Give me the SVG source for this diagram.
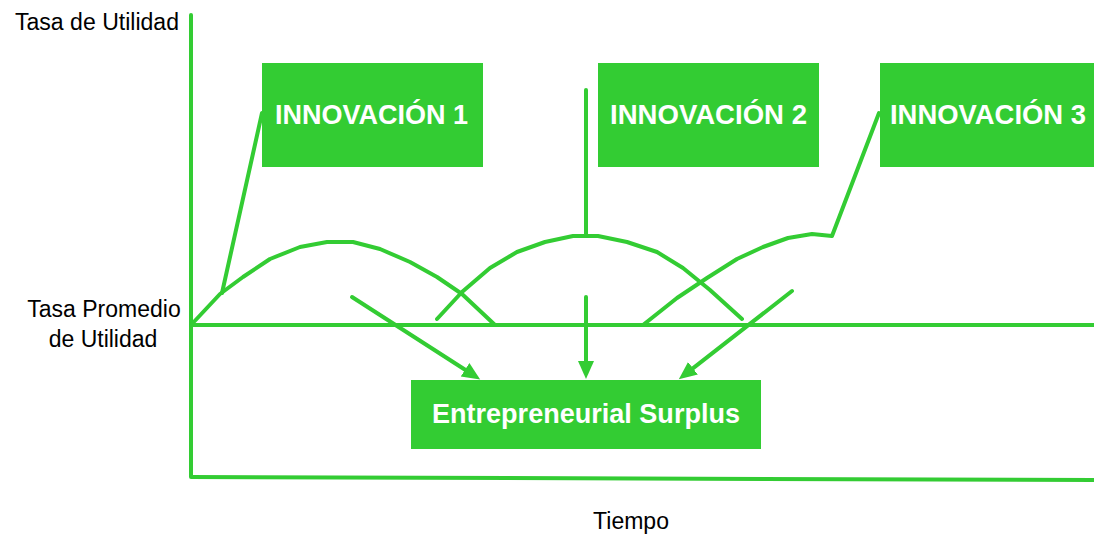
<svg xmlns="http://www.w3.org/2000/svg" width="1094" height="537" viewBox="0 0 1094 537">
  <style>
    .ln { fill: none; stroke: #33CC33; stroke-width: 4; stroke-linecap: round; stroke-linejoin: round; }
    .box { fill: #33CC33; }
    .bt { font-family: "Liberation Sans", Arial, sans-serif; font-weight: bold; fill: #FFFFFF; text-anchor: middle; }
    .lbl { font-family: "Liberation Sans", Arial, sans-serif; fill: #000000; }
  </style>
  <defs>
    <marker id="ah" markerUnits="userSpaceOnUse" markerWidth="20" markerHeight="18" refX="1" refY="8" orient="auto">
      <polygon points="0,0 18,8 0,16" fill="#33CC33"/>
    </marker>
  </defs>
  <rect width="1094" height="537" fill="#FFFFFF"/>

  <g id="axes">
    <line class="ln" x1="191" y1="15" x2="191" y2="477"/>
    <line class="ln" x1="191" y1="477" x2="1096" y2="480" style="stroke-linecap:butt"/>
    <line class="ln" x1="191" y1="325" x2="1096" y2="325" style="stroke-linecap:butt"/>
  </g>

  <g id="labels">
    <text class="lbl" x="15" y="30" font-size="23" textLength="164" lengthAdjust="spacingAndGlyphs">Tasa de Utilidad</text>
    <text class="lbl" x="104" y="317" font-size="23" text-anchor="middle">Tasa Promedio</text>
    <text class="lbl" x="103" y="347" font-size="23" text-anchor="middle">de Utilidad</text>
    <text class="lbl" x="631" y="529" font-size="23" text-anchor="middle">Tiempo</text>
  </g>

  <g id="connectors">
    <polyline class="ln" points="191,325 220,294 243,277 270,259 300,247 327,242 353,242 380,249 410,262 437,277 462,294 495,325"/>
    <line class="ln" x1="262" y1="113" x2="222" y2="293"/>
    <polyline class="ln" points="437,319 462,292 490,268 517,252 545,242 573,236 598,236 627,242 657,252 683,268 710,290 742,319"/>
    <line class="ln" x1="586" y1="90" x2="586" y2="236"/>
    <polyline class="ln" points="643,325 677,298 707,278 737,259 763,247 788,238 812,234 832,236 879,113"/>
    <line class="ln" x1="352" y1="297" x2="465.9" y2="370.3" marker-end="url(#ah)"/>
    <line class="ln" x1="586" y1="297" x2="586" y2="362" marker-end="url(#ah)"/>
    <line class="ln" x1="792" y1="291" x2="692.2" y2="368.9" marker-end="url(#ah)"/>
  </g>

  <g id="innovacion1">
    <rect class="box" x="262" y="63" width="221" height="104"/>
    <text class="bt" x="371.5" y="124" font-size="28.5" textLength="193" lengthAdjust="spacingAndGlyphs">INNOVACIÓN 1</text>
  </g>
  <g id="innovacion2">
    <rect class="box" x="598" y="63" width="221" height="104"/>
    <text class="bt" x="708.5" y="124" font-size="28.5" textLength="197" lengthAdjust="spacingAndGlyphs">INNOVACIÓN 2</text>
  </g>
  <g id="innovacion3">
    <rect class="box" x="880" y="63" width="221" height="104"/>
    <text class="bt" x="988" y="124" font-size="28.5" textLength="196" lengthAdjust="spacingAndGlyphs">INNOVACIÓN 3</text>
  </g>
  <g id="surplus">
    <rect class="box" x="411" y="380" width="350" height="69"/>
    <text class="bt" x="586" y="423" font-size="27.5" textLength="308" lengthAdjust="spacingAndGlyphs">Entrepreneurial Surplus</text>
  </g>
</svg>
